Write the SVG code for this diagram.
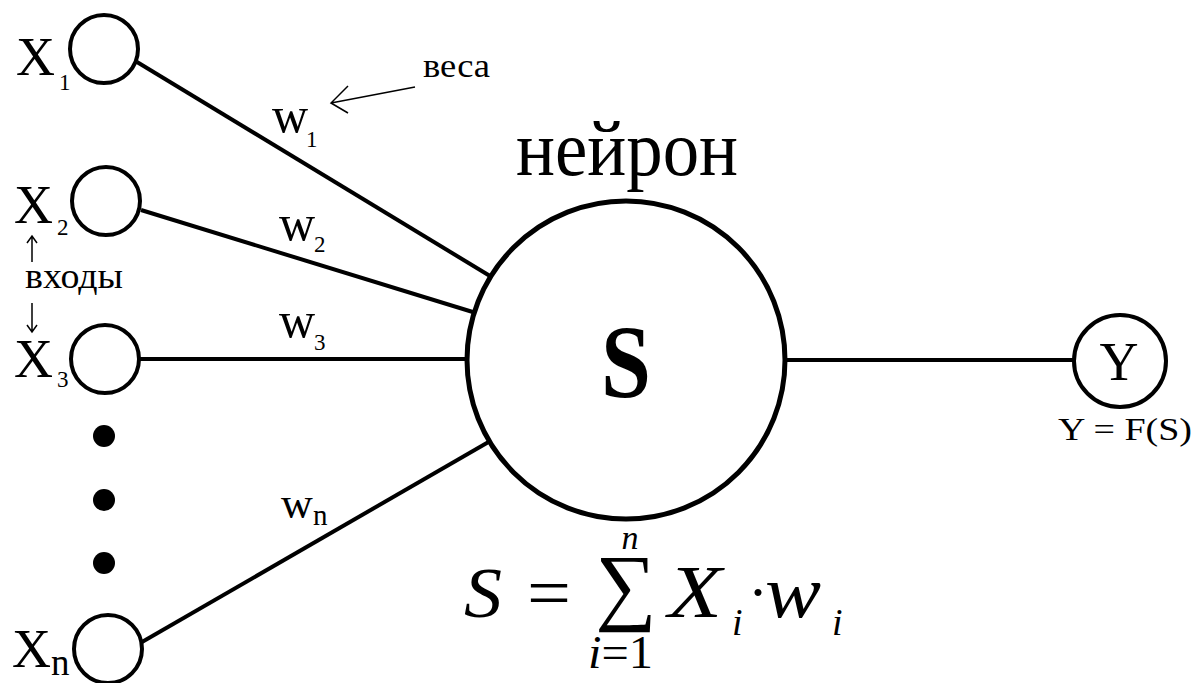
<svg xmlns="http://www.w3.org/2000/svg" width="1197" height="683" viewBox="0 0 1197 683">
<style>
.t{font-family:"Liberation Serif","Times New Roman",serif;fill:#000}
.i{font-family:"Liberation Serif","Times New Roman",serif;font-style:italic;fill:#000}
.node{fill:#fff;stroke:#000;stroke-width:4}
.big{fill:#fff;stroke:#000;stroke-width:5}
.conn{stroke:#000;stroke-width:4;fill:none}
.thin{stroke:#000;stroke-width:1.5;fill:none}
</style>
<rect width="1197" height="683" fill="#fff"/>
<g id="connectors">
<line class="conn" x1="137" y1="62" x2="490" y2="276"/>
<line class="conn" x1="141" y1="210" x2="476" y2="313"/>
<line class="conn" x1="139" y1="359" x2="468" y2="359"/>
<line class="conn" x1="142" y1="642" x2="492" y2="440"/>
<line class="conn" x1="784" y1="360" x2="1074" y2="360"/>
</g>
<g id="x1"><circle class="node" cx="104" cy="49" r="34"/>
<text class="t" x="16" y="75" font-size="54">X</text><text class="t" x="59" y="90" font-size="23">1</text></g>
<g id="x2"><circle class="node" cx="106" cy="201" r="34"/>
<text class="t" x="14" y="223" font-size="54">X</text><text class="t" x="57" y="235" font-size="23">2</text></g>
<g id="x3"><circle class="node" cx="105" cy="359" r="34"/>
<text class="t" x="14" y="377" font-size="54">X</text><text class="t" x="57" y="387" font-size="23">3</text></g>
<g id="xn"><circle class="node" cx="108" cy="649" r="34"/>
<text class="t" x="12" y="667" font-size="54">X</text><text class="t" x="51" y="675" font-size="37">n</text></g>
<g id="dots" fill="#000">
<circle cx="104" cy="436" r="11"/><circle cx="104" cy="500" r="11"/><circle cx="104" cy="563" r="11"/>
</g>
<g id="neuron"><circle class="big" cx="626" cy="360" r="159"/>
<text class="t" x="626" y="397" font-size="104" font-weight="bold" text-anchor="middle" textLength="50" lengthAdjust="spacingAndGlyphs">S</text>
<text class="t" x="516" y="175" font-size="78" textLength="222" lengthAdjust="spacingAndGlyphs">нейрон</text></g>
<g id="y"><circle class="node" cx="1120" cy="361" r="46"/>
<text class="t" x="1119" y="380" font-size="54" text-anchor="middle">Y</text>
<text class="t" x="1058" y="440" font-size="32" textLength="134" lengthAdjust="spacingAndGlyphs">Y = F(S)</text></g>
<g id="weights">
<text class="t" x="272" y="132" font-size="50">w</text><text class="t" x="306" y="147" font-size="23">1</text>
<text class="t" x="279" y="240" font-size="50">w</text><text class="t" x="314" y="252" font-size="23">2</text>
<text class="t" x="279" y="337" font-size="50">w</text><text class="t" x="314" y="350" font-size="23">3</text>
<text class="t" x="281" y="518" font-size="44">w</text><text class="t" x="313" y="525" font-size="29">n</text>
</g>
<g id="labels">
<text class="t" x="423" y="77" font-size="34" textLength="67" lengthAdjust="spacingAndGlyphs">веса</text>
<path class="thin" d="M415 87 L331 103 M348 86 L331 103 L348 113"/>
<text class="t" x="25" y="288" font-size="35" textLength="98" lengthAdjust="spacingAndGlyphs">входы</text>
<path class="thin" d="M32 262 L32 236 M27 243 L32 236 L37 243"/>
<path class="thin" d="M32 303 L32 332 M27 325 L32 332 L37 325"/>
</g>
<g id="formula">
<text class="i" x="464" y="617" font-size="72" textLength="38" lengthAdjust="spacingAndGlyphs">S</text>
<text class="t" x="527" y="617" font-size="72" textLength="44" lengthAdjust="spacingAndGlyphs">=</text>
<text class="t" x="626" y="614" font-size="86" text-anchor="middle">∑</text>
<text class="i" x="630" y="549" font-size="34" text-anchor="middle">n</text>
<text class="t" x="588" y="668" font-size="46" textLength="65" lengthAdjust="spacingAndGlyphs"><tspan font-style="italic">i</tspan>=1</text>
<text class="i" x="668" y="617" font-size="74" textLength="54" lengthAdjust="spacingAndGlyphs">X</text>
<text class="i" x="732" y="635" font-size="38">i</text>
<text class="t" x="748" y="612" font-size="60">·</text>
<text class="i" x="765" y="617" font-size="74" textLength="56" lengthAdjust="spacingAndGlyphs">w</text>
<text class="i" x="832" y="635" font-size="38">i</text>
</g>
</svg>
